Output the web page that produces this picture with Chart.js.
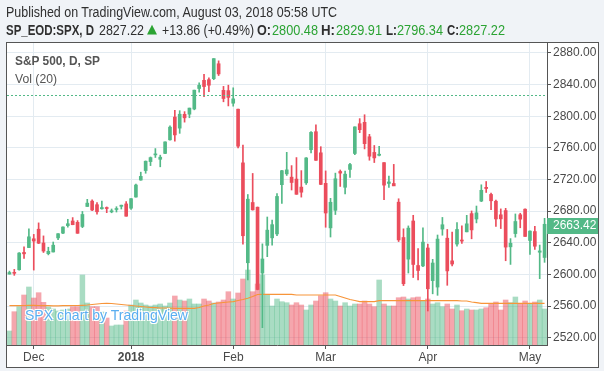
<!DOCTYPE html>
<html><head><meta charset="utf-8">
<script src="https://cdn.jsdelivr.net/npm/chart.js@4.4.1/dist/chart.umd.min.js"></script>
<style>
html,body{margin:0;padding:0;background:#f0f3f7;}
#wrap{position:relative;width:604px;height:371px;overflow:hidden;font-family:'Liberation Sans',Arial,sans-serif;}
canvas{position:absolute;left:0;top:0;}
.t{position:absolute;white-space:nowrap;transform-origin:0 50%;line-height:16px;}
.h{font-size:14px;color:#2f2f2f;}
.b{font-weight:bold;}
.g{color:#2ba333;}
.tri{font-family:'DejaVu Sans',sans-serif;font-size:13px;}
.lg{font-size:13px;color:#555;}
.wm{font-size:15px;color:#5aaef0;line-height:18px;text-shadow:0 0 2px #fff,1px 1px 0 #fff,-1px -1px 0 #fff,1px -1px 0 #fff,-1px 1px 0 #fff;}
</style></head><body>
<div id="wrap">
<canvas id="c" width="604" height="371"></canvas>
<div class="t h" style="left:6px;top:4px" data-w="331">Published on TradingView.com, August 03, 2018 05:58 UTC</div>
<div class="t h b" style="left:6px;top:22px" data-w="88">SP_EOD:SPX, D</div>
<div class="t h" style="left:99px;top:22px" data-w="45">2827.22</div>
<div class="t g tri" style="left:147px;top:21px">▲</div>
<div class="t h" style="left:162px;top:22px" data-w="92">+13.86 (+0.49%)</div>
<div class="t h b" style="left:257px;top:22px" data-w="14">O:</div>
<div class="t h g" style="left:272px;top:22px" data-w="46">2800.48</div>
<div class="t h b" style="left:321px;top:22px" data-w="14">H:</div>
<div class="t h g" style="left:336px;top:22px" data-w="46">2829.91</div>
<div class="t h b" style="left:386px;top:22px" data-w="11">L:</div>
<div class="t h g" style="left:397px;top:22px" data-w="46">2796.34</div>
<div class="t h b" style="left:447px;top:22px" data-w="12">C:</div>
<div class="t h g" style="left:459px;top:22px" data-w="46">2827.22</div>
<div class="t lg b" style="left:15px;top:53px" data-w="85">S&amp;P 500, D, SP</div>
<div class="t lg" style="left:15px;top:71px" data-w="42">Vol (20)</div>
<div class="t wm" style="left:25px;top:306px" data-w="163">SPX chart by TradingView</div>
</div>
<script>
const dates = ['2017-11-24','2017-11-27','2017-11-28','2017-11-29','2017-11-30','2017-12-01','2017-12-04','2017-12-05','2017-12-06','2017-12-07','2017-12-08','2017-12-11','2017-12-12','2017-12-13','2017-12-14','2017-12-15','2017-12-18','2017-12-19','2017-12-20','2017-12-21','2017-12-22','2017-12-26','2017-12-27','2017-12-28','2017-12-29','2018-01-02','2018-01-03','2018-01-04','2018-01-05','2018-01-08','2018-01-09','2018-01-10','2018-01-11','2018-01-12','2018-01-16','2018-01-17','2018-01-18','2018-01-19','2018-01-22','2018-01-23','2018-01-24','2018-01-25','2018-01-26','2018-01-29','2018-01-30','2018-01-31','2018-02-01','2018-02-02','2018-02-05','2018-02-06','2018-02-07','2018-02-08','2018-02-09','2018-02-12','2018-02-13','2018-02-14','2018-02-15','2018-02-16','2018-02-20','2018-02-21','2018-02-22','2018-02-23','2018-02-26','2018-02-27','2018-02-28','2018-03-01','2018-03-02','2018-03-05','2018-03-06','2018-03-07','2018-03-08','2018-03-09','2018-03-12','2018-03-13','2018-03-14','2018-03-15','2018-03-16','2018-03-19','2018-03-20','2018-03-21','2018-03-22','2018-03-23','2018-03-26','2018-03-27','2018-03-28','2018-03-29','2018-04-02','2018-04-03','2018-04-04','2018-04-05','2018-04-06','2018-04-09','2018-04-10','2018-04-11','2018-04-12','2018-04-13','2018-04-16','2018-04-17','2018-04-18','2018-04-19','2018-04-20','2018-04-23','2018-04-24','2018-04-25','2018-04-26','2018-04-27','2018-04-30','2018-05-01','2018-05-02','2018-05-03','2018-05-04'];
const opens = [2600.42,2602.66,2605.94,2627.82,2633.93,2645.10,2657.19,2639.78,2626.24,2628.38,2646.21,2652.19,2661.73,2667.59,2665.87,2660.63,2685.92,2692.71,2688.18,2683.02,2684.22,2679.09,2682.10,2686.10,2689.15,2683.73,2697.85,2719.31,2731.33,2742.67,2751.15,2745.55,2752.97,2770.18,2798.96,2784.99,2802.40,2802.60,2809.16,2835.05,2845.42,2846.24,2847.48,2866.36,2832.74,2832.41,2816.45,2808.92,2741.06,2614.78,2690.95,2685.01,2601.78,2636.75,2646.27,2651.21,2713.46,2727.14,2722.99,2720.53,2710.42,2715.80,2757.77,2780.45,2753.78,2715.22,2658.89,2681.06,2730.18,2710.18,2732.75,2752.91,2790.54,2792.31,2774.06,2754.27,2750.57,2741.38,2715.05,2714.99,2691.36,2646.71,2619.35,2667.57,2611.30,2610.79,2633.45,2592.17,2584.04,2657.36,2645.82,2617.18,2638.41,2643.56,2653.83,2676.90,2670.10,2692.74,2710.11,2701.16,2692.56,2675.40,2680.80,2634.92,2651.65,2675.47,2682.51,2642.96,2654.24,2628.08,2621.45];
const highs = [2604.21,2606.41,2627.69,2634.89,2657.74,2650.62,2665.19,2648.72,2634.41,2640.99,2651.65,2660.33,2669.72,2671.88,2668.09,2679.63,2694.97,2694.44,2691.01,2692.64,2685.35,2682.74,2685.64,2687.66,2692.12,2695.89,2714.37,2729.29,2743.45,2748.51,2759.14,2750.80,2767.56,2787.85,2807.54,2807.04,2805.83,2810.33,2833.03,2842.24,2852.97,2848.56,2872.87,2870.05,2837.75,2839.26,2835.96,2808.92,2763.39,2701.04,2727.67,2685.27,2638.67,2672.61,2668.84,2702.10,2731.51,2754.42,2737.60,2747.75,2731.26,2747.76,2780.64,2789.15,2761.52,2730.89,2696.25,2728.09,2732.08,2730.60,2740.45,2786.57,2796.98,2801.90,2777.11,2763.03,2761.85,2741.38,2724.22,2739.14,2695.68,2657.67,2661.36,2674.78,2632.65,2659.07,2638.30,2619.14,2649.86,2672.08,2656.88,2653.55,2665.45,2661.43,2674.72,2680.26,2686.49,2713.34,2717.49,2702.84,2693.94,2682.86,2683.55,2645.30,2676.48,2677.35,2682.87,2655.27,2660.87,2637.14,2670.93];
const lows = [2600.42,2598.87,2605.44,2620.32,2633.93,2605.52,2639.03,2627.73,2624.75,2628.38,2644.10,2651.47,2659.78,2662.85,2652.01,2659.14,2685.92,2680.74,2676.11,2682.40,2678.13,2677.96,2678.91,2682.69,2673.61,2682.36,2697.77,2719.07,2727.92,2737.60,2747.86,2736.06,2752.78,2769.64,2768.64,2778.38,2792.56,2798.08,2808.12,2830.59,2824.81,2830.94,2846.18,2851.48,2818.27,2813.04,2812.70,2759.97,2638.17,2593.07,2681.33,2580.56,2532.69,2622.45,2637.08,2648.87,2689.82,2725.11,2706.76,2701.29,2697.77,2713.74,2753.78,2744.22,2713.54,2659.65,2647.32,2675.75,2711.26,2701.74,2722.65,2751.54,2779.26,2758.68,2744.38,2741.47,2749.97,2694.59,2710.05,2712.17,2641.59,2585.89,2601.81,2596.12,2593.06,2609.72,2553.80,2575.49,2573.61,2649.58,2586.27,2610.79,2635.78,2639.25,2653.83,2645.05,2665.16,2692.05,2703.63,2681.90,2660.61,2657.99,2617.32,2612.67,2647.16,2659.01,2648.04,2625.41,2631.70,2594.62,2615.32];
const closes = [2602.42,2601.42,2627.04,2626.07,2647.58,2642.22,2639.44,2629.57,2629.27,2636.98,2651.50,2659.99,2664.11,2662.85,2652.01,2675.81,2690.16,2681.47,2679.25,2684.57,2683.34,2680.50,2682.62,2687.54,2673.61,2695.81,2713.06,2723.99,2743.15,2747.71,2751.29,2748.23,2767.56,2786.24,2776.42,2802.56,2798.03,2810.30,2832.97,2839.13,2837.54,2839.25,2872.87,2853.53,2822.43,2823.81,2821.98,2762.13,2648.94,2695.14,2681.66,2581.00,2619.55,2656.00,2662.94,2698.63,2731.20,2732.22,2716.26,2701.33,2703.96,2747.30,2779.60,2744.28,2713.83,2677.67,2691.25,2720.94,2728.12,2726.80,2738.97,2786.57,2783.02,2765.31,2749.48,2747.33,2752.01,2712.92,2716.94,2711.93,2643.69,2588.26,2658.55,2612.62,2605.00,2640.87,2581.88,2614.45,2644.69,2662.84,2604.47,2613.16,2656.87,2642.19,2663.99,2656.30,2677.84,2706.39,2708.64,2693.13,2670.14,2670.29,2634.56,2639.40,2666.94,2669.91,2648.05,2654.80,2635.67,2629.73,2663.42];
// volume in millions
const volumes = [1400,3330,3830,5000,5800,4700,5230,4270,3800,3600,3400,3500,3600,3830,3830,7000,4200,3830,3830,3300,2700,1900,2000,2000,3400,4000,4500,4200,4000,3900,4000,4100,3900,4200,4900,4500,4400,4600,4100,4100,4600,4400,4200,4300,4500,5330,4600,5200,6600,7500,5330,6100,7000,5000,3900,4600,4330,4230,4000,4230,4000,3500,4000,4400,4930,5230,4600,4400,3900,4230,3900,4100,4100,4400,4100,3830,6500,4100,3900,3900,4730,4800,4600,4730,4800,4430,4600,4100,4230,3830,4100,3600,4000,3430,3600,3500,3500,3600,3730,4170,4300,3500,4500,4230,4800,4130,4400,4070,4300,4500,3600];
const volumeMA20 = [3930,3930,3940,3950,3960,3960,3950,3940,3930,3920,3920,3930,3940,3950,3950,3970,4000,4050,4100,4150,4170,4150,4100,4050,4000,3950,3900,3850,3800,3750,3730,3700,3700,3680,3670,3670,3670,3670,3670,3750,3900,4000,4150,4200,4250,4300,4330,4450,4550,4670,4850,5050,5070,5070,5070,5070,5070,5070,5070,5000,5000,5000,5000,5000,5000,5000,5000,5000,4850,4700,4550,4450,4330,4330,4330,4330,4430,4430,4430,4430,4430,4430,4430,4430,4430,4430,4430,4430,4430,4430,4430,4430,4430,4400,4400,4300,4230,4170,4170,4170,4170,4170,4170,4170,4170,4170,4170,4170,4170,4170,4170];
const priceTicks = [2520,2560,2600,2640,2680,2720,2760,2800,2840,2880];
const monthTickLabels = {'2017-12-01':'Dec','2018-01-02':'2018','2018-02-01':'Feb','2018-03-01':'Mar','2018-04-02':'Apr','2018-05-01':'May'};
const lastTradePrice = 2827.22;

const UP='#53b987', DOWN='#eb4d5c', UPV='rgba(83,185,135,0.5)', DOWNV='rgba(235,77,92,0.5)';
const GRID='#e3ebf1', AXIS='#555555', TXT='#4a4a4a', FONT="'Liberation Sans', Arial, sans-serif";
const isUp = closes.map((c,i)=>c>=opens[i]);

const panel = {
  id:'panel',
  beforeDraw(chart){const c=chart.ctx;c.save();c.fillStyle='#ffffff';c.fillRect(7,43,591,324);c.restore();},
  afterDatasetsDraw(chart){
    const c=chart.ctx,a=chart.chartArea,y=chart.scales.y.getPixelForValue(lastTradePrice);
    c.save();c.beginPath();c.rect(a.left,a.top,a.right-a.left,a.bottom-a.top);c.clip();
    c.strokeStyle=UP;c.lineWidth=1;c.setLineDash([2,2]);
    c.beginPath();c.moveTo(a.left,Math.round(y)+0.5);c.lineTo(a.right,Math.round(y)+0.5);c.stroke();c.restore();
  },
  afterDraw(chart){
    const c=chart.ctx,a=chart.chartArea,last=closes[closes.length-1];
    const y=chart.scales.y.getPixelForValue(last);
    c.save();
    c.fillStyle=last>=opens[opens.length-1]?UP:DOWN;
    c.fillRect(a.right,Math.round(y)-6,51,16);
    c.fillStyle='#ffffff';c.font="12px "+FONT;c.textBaseline='middle';c.textAlign='left';
    c.fillText(last.toFixed(2),a.right+6,Math.round(y)+2);
    c.strokeStyle=AXIS;c.lineWidth=1;c.strokeRect(6.5,42.5,592,325);
    c.restore();
  }
};

new Chart(document.getElementById('c'),{
  type:'bar',
  data:{labels:dates,datasets:[
    {label:'Body',data:opens.map((o,i)=>[o,closes[i]]),backgroundColor:isUp.map(u=>u?UP:DOWN),barThickness:3,minBarLength:1,grouped:false,yAxisID:'y',order:1},
    {label:'Wick',data:lows.map((l,i)=>[l,highs[i]]),backgroundColor:isUp.map(u=>u?UP:DOWN),barThickness:1,grouped:false,yAxisID:'y',order:2},
    {type:'line',label:'Vol MA',data:volumeMA20,borderColor:'#f7953a',borderWidth:1.2,pointRadius:0,tension:0,yAxisID:'yv',order:3},
    {label:'Volume',data:volumes,backgroundColor:isUp.map(u=>u?UPV:DOWNV),barPercentage:1,categoryPercentage:1,grouped:false,yAxisID:'yv',order:4}
  ]},
  options:{
    responsive:false,animation:false,devicePixelRatio:1,
    layout:{padding:{left:7,top:43,right:6,bottom:4}},
    plugins:{legend:{display:false},tooltip:{enabled:false}},
    scales:{
      x:{type:'category',offset:true,
        grid:{offset:false,drawOnChartArea:true,tickLength:4,
          color:ctx=>monthTickLabels[dates[ctx.index]]!==undefined?GRID:'rgba(0,0,0,0)',
          tickColor:ctx=>monthTickLabels[dates[ctx.index]]!==undefined?AXIS:'rgba(0,0,0,0)'},
        border:{display:true,color:AXIS,width:1},
        ticks:{autoSkip:false,maxRotation:0,minRotation:0,padding:1,color:TXT,
          font:ctx=>({family:FONT,size:12,weight:monthTickLabels[dates[ctx.index]]==='2018'?'bold':'normal'}),
          callback:(v,i)=>monthTickLabels[dates[i]]||''},
        afterFit:s=>{s.height=22;}
      },
      y:{position:'right',min:2510.8,max:2892.6,
        afterBuildTicks:s=>{s.ticks=priceTicks.map(v=>({value:v}));},
        grid:{color:GRID,tickColor:AXIS,tickLength:4},
        border:{display:true,color:AXIS,width:1},
        ticks:{color:TXT,padding:2,font:{family:FONT,size:12},callback:v=>Number(v).toFixed(2)},
        afterFit:s=>{s.width=51;}
      },
      yv:{display:false,min:0,max:30200}
    }
  },
  plugins:[panel]
});

document.querySelectorAll('[data-w]').forEach(el=>{
  const w=el.getBoundingClientRect().width;
  el.style.transform='scaleX('+(+el.dataset.w/w)+')';
});
</script>
</body></html>
